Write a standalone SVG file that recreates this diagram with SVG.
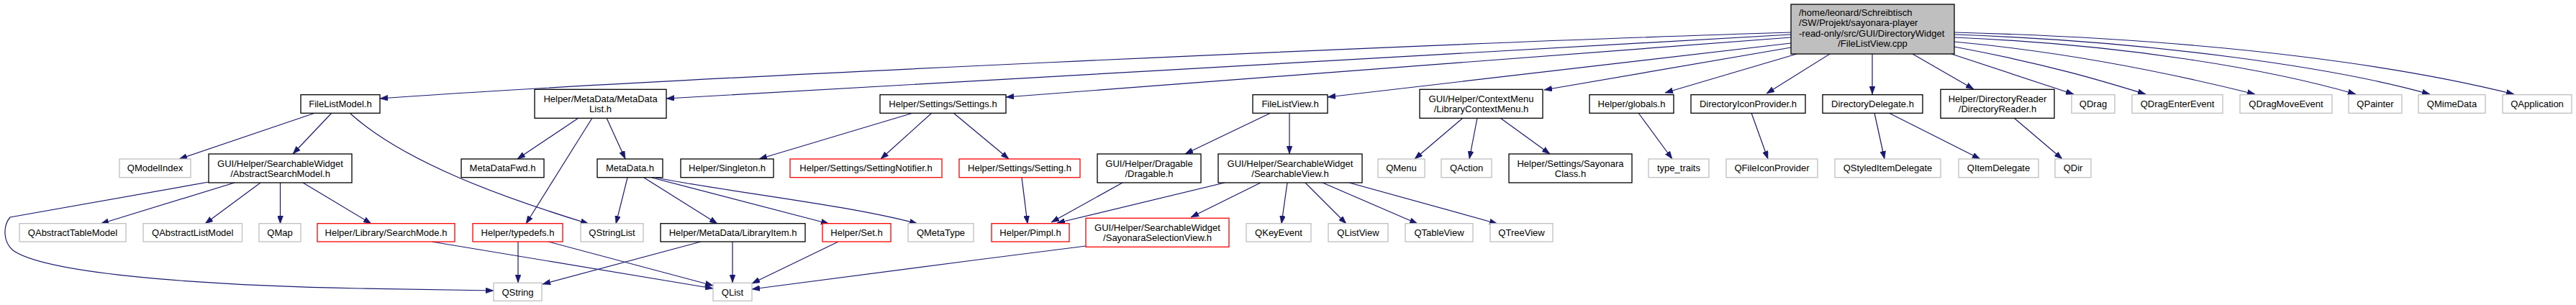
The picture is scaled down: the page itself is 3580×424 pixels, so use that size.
<svg xmlns="http://www.w3.org/2000/svg" width="3580" height="424" viewBox="0 0 3580 424">
<style>
rect{fill:#fff;stroke-width:1.3}
.k rect{stroke:#000}
.g rect{stroke:#bfbfbf}
.r rect{stroke:#f00}
.root rect{fill:#bfbfbf;stroke:#000}
text{font-family:"Liberation Sans",Arial,sans-serif;font-size:13px;fill:#000;text-anchor:middle}
.root text{text-anchor:start}
#edges path{fill:none;stroke:#191970;stroke-width:1.2;marker-end:url(#ah)}
</style>
<defs>
<marker id="ah" markerUnits="userSpaceOnUse" markerWidth="11" markerHeight="8" refX="11" refY="4" orient="auto">
<path d="M0,0 L11,4 L0,8 z" fill="#191970" stroke="#191970" stroke-width="0.5"/>
</marker>
</defs>
<rect width="3580" height="424" fill="#fff" stroke="none"/>
<g id="edges">
<path d="M2489,45 C2000,60 900,110 528,137"/>
<path d="M2489,48 C2100,70 1400,110 926,137"/>
<path d="M2489,52 L1398,135"/>
<path d="M2489,60 L1845,135"/>
<path d="M2489,66 L2146,125"/>
<path d="M2497,75 L2314,129"/>
<path d="M2543,75 L2455,130"/>
<path d="M2602,75 L2602,131"/>
<path d="M2658,75 L2743,124"/>
<path d="M2712,75 L2882,131"/>
<path d="M2716,65 C2850,90 2930,115 2982,131"/>
<path d="M2716,58 C2900,75 3050,110 3134,131"/>
<path d="M2716,52 C2950,62 3150,95 3274,131"/>
<path d="M2716,48 C3000,58 3250,95 3377,131"/>
<path d="M2716,45 C3100,55 3350,95 3494,131"/>
<path d="M438,157 L249,221"/>
<path d="M461,157 L407,214"/>
<path d="M486,157 C560,225 700,275 818,311"/>
<path d="M326,254 L140,311"/>
<path d="M362,254 L285,311"/>
<path d="M389.5,254 L389.5,311"/>
<path d="M421,254 L516,311"/>
<path d="M290,253 L14,302 C4,314 4,336 18,348 C60,378 250,396 500,401 L686,404"/>
<path d="M600,336 L991,401"/>
<path d="M804,164 L719,221"/>
<path d="M823,164 L731,311"/>
<path d="M843,164 L869,221"/>
<path d="M872,247 L856,311"/>
<path d="M895,247 L997,311"/>
<path d="M906,247 L1152,311"/>
<path d="M912,247 C1000,265 1180,285 1275,311"/>
<path d="M720,336 L720,393"/>
<path d="M762,336 L991,397"/>
<path d="M974,336 L754,395"/>
<path d="M1018,336 L1018,393"/>
<path d="M1165,336 L1045,394"/>
<path d="M1509,342 C1350,362 1150,388 1045,402"/>
<path d="M1269,157 L1055,221"/>
<path d="M1295,157 L1224,221"/>
<path d="M1325,157 L1402,221"/>
<path d="M1420,247 L1428,311"/>
<path d="M1766,157 L1647,214"/>
<path d="M1792,157 L1792,214"/>
<path d="M1560,254 L1461,309"/>
<path d="M1702,254 L1469,310"/>
<path d="M1752,254 L1655,302"/>
<path d="M1789,254 L1781,311"/>
<path d="M1814,254 L1871,311"/>
<path d="M1838,254 L1970,311"/>
<path d="M1875,254 L2081,311"/>
<path d="M2033,164 L1966,221"/>
<path d="M2053,164 L2042,221"/>
<path d="M2085,164 L2154,214"/>
<path d="M2277,157 L2324,221"/>
<path d="M2434,157 L2457,221"/>
<path d="M2605,157 L2619,221"/>
<path d="M2625,157 L2752,221"/>
<path d="M2799,164 L2866,221"/>
</g>
<g id="root" class="root"><rect x="2489" y="6" width="227" height="69"/>
<text x="2500" y="21.5">/home/leonard/Schreibtisch</text>
<text x="2500" y="36">/SW/Projekt/sayonara-player</text>
<text x="2500" y="50.5">-read-only/src/GUI/DirectoryWidget</text>
<text x="2602.5" y="65" style="text-anchor:middle">/FileListView.cpp</text></g>
<g id="n_FileListModel" class="k"><rect x="418" y="131.7" width="110" height="25.6"/><text x="473" y="149">FileListModel.h</text></g>
<g id="n_MetaDataList" class="k"><rect x="743" y="124.3" width="183" height="40"/><text x="834.5" y="142">Helper/MetaData/MetaData</text><text x="834.5" y="156">List.h</text></g>
<g id="n_Settings" class="k"><rect x="1223" y="131.7" width="175" height="25.6"/><text x="1310.5" y="149">Helper/Settings/Settings.h</text></g>
<g id="n_FileListView" class="k"><rect x="1741" y="131.7" width="104" height="25.6"/><text x="1793" y="149">FileListView.h</text></g>
<g id="n_LibraryContextMenu" class="k"><rect x="1973" y="124.3" width="171" height="40"/><text x="2058.5" y="142">GUI/Helper/ContextMenu</text><text x="2058.5" y="156">/LibraryContextMenu.h</text></g>
<g id="n_globals" class="k"><rect x="2209" y="131.7" width="117" height="25.6"/><text x="2267.5" y="149">Helper/globals.h</text></g>
<g id="n_DirectoryIconProvider" class="k"><rect x="2350" y="131.7" width="159" height="25.6"/><text x="2429.5" y="149">DirectoryIconProvider.h</text></g>
<g id="n_DirectoryDelegate" class="k"><rect x="2533" y="131.7" width="139" height="25.6"/><text x="2602.5" y="149">DirectoryDelegate.h</text></g>
<g id="n_DirectoryReader" class="k"><rect x="2697" y="124.3" width="158" height="40"/><text x="2776" y="142">Helper/DirectoryReader</text><text x="2776" y="156">/DirectoryReader.h</text></g>
<g id="n_QDrag" class="g"><rect x="2879" y="131.7" width="60" height="25.6"/><text x="2909" y="149">QDrag</text></g>
<g id="n_QDragEnterEvent" class="g"><rect x="2963" y="131.7" width="126" height="25.6"/><text x="3026" y="149">QDragEnterEvent</text></g>
<g id="n_QDragMoveEvent" class="g"><rect x="3113" y="131.7" width="128" height="25.6"/><text x="3177" y="149">QDragMoveEvent</text></g>
<g id="n_QPainter" class="g"><rect x="3264" y="131.7" width="74" height="25.6"/><text x="3301" y="149">QPainter</text></g>
<g id="n_QMimeData" class="g"><rect x="3361" y="131.7" width="93" height="25.6"/><text x="3407.5" y="149">QMimeData</text></g>
<g id="n_QApplication" class="g"><rect x="3478" y="131.7" width="96" height="25.6"/><text x="3526" y="149">QApplication</text></g>
<g id="n_QModelIndex" class="g"><rect x="166" y="221" width="99" height="25.7"/><text x="215.5" y="238.3">QModelIndex</text></g>
<g id="n_AbstractSearchModel" class="k"><rect x="290" y="214" width="199" height="40"/><text x="389.5" y="231.7">GUI/Helper/SearchableWidget</text><text x="389.5" y="245.7">/AbstractSearchModel.h</text></g>
<g id="n_MetaDataFwd" class="k"><rect x="641" y="221" width="115" height="25.7"/><text x="698.5" y="238.3">MetaDataFwd.h</text></g>
<g id="n_MetaData" class="k"><rect x="830" y="221" width="91" height="25.7"/><text x="875.5" y="238.3">MetaData.h</text></g>
<g id="n_Singleton" class="k"><rect x="946" y="221" width="129" height="25.7"/><text x="1010.5" y="238.3">Helper/Singleton.h</text></g>
<g id="n_SettingNotifier" class="r"><rect x="1098" y="221" width="211" height="25.7"/><text x="1203.5" y="238.3">Helper/Settings/SettingNotifier.h</text></g>
<g id="n_Setting" class="r"><rect x="1333" y="221" width="168" height="25.7"/><text x="1417" y="238.3">Helper/Settings/Setting.h</text></g>
<g id="n_Dragable" class="k"><rect x="1525" y="214" width="144" height="40"/><text x="1597" y="231.7">GUI/Helper/Dragable</text><text x="1597" y="245.7">/Dragable.h</text></g>
<g id="n_SearchableView" class="k"><rect x="1693" y="214" width="200" height="40"/><text x="1793" y="231.7">GUI/Helper/SearchableWidget</text><text x="1793" y="245.7">/SearchableView.h</text></g>
<g id="n_QMenu" class="g"><rect x="1915" y="221" width="65" height="25.7"/><text x="1947.5" y="238.3">QMenu</text></g>
<g id="n_QAction" class="g"><rect x="2003" y="221" width="70" height="25.7"/><text x="2038" y="238.3">QAction</text></g>
<g id="n_SayonaraClass" class="k"><rect x="2097" y="214" width="171" height="40"/><text x="2182.5" y="231.7">Helper/Settings/Sayonara</text><text x="2182.5" y="245.7">Class.h</text></g>
<g id="n_type_traits" class="g"><rect x="2291" y="221" width="84" height="25.7"/><text x="2333" y="238.3">type_traits</text></g>
<g id="n_QFileIconProvider" class="g"><rect x="2399" y="221" width="127" height="25.7"/><text x="2462.5" y="238.3">QFileIconProvider</text></g>
<g id="n_QStyledItemDelegate" class="g"><rect x="2550" y="221" width="147" height="25.7"/><text x="2623.5" y="238.3">QStyledItemDelegate</text></g>
<g id="n_QItemDelegate" class="g"><rect x="2722" y="221" width="111" height="25.7"/><text x="2777.5" y="238.3">QItemDelegate</text></g>
<g id="n_QDir" class="g"><rect x="2856" y="221" width="50" height="25.7"/><text x="2881" y="238.3">QDir</text></g>
<g id="n_QAbstractTableModel" class="g"><rect x="27" y="310.7" width="148" height="25.3"/><text x="101" y="328">QAbstractTableModel</text></g>
<g id="n_QAbstractListModel" class="g"><rect x="199" y="310.7" width="137.5" height="25.3"/><text x="267.75" y="328">QAbstractListModel</text></g>
<g id="n_QMap" class="g"><rect x="360" y="310.7" width="58" height="25.3"/><text x="389" y="328">QMap</text></g>
<g id="n_SearchMode" class="r"><rect x="441" y="310.7" width="191" height="25.3"/><text x="536.5" y="328">Helper/Library/SearchMode.h</text></g>
<g id="n_typedefs" class="r"><rect x="657" y="310.7" width="125" height="25.3"/><text x="719.5" y="328">Helper/typedefs.h</text></g>
<g id="n_QStringList" class="g"><rect x="807" y="310.7" width="87" height="25.3"/><text x="850.5" y="328">QStringList</text></g>
<g id="n_LibraryItem" class="k"><rect x="918" y="310.7" width="201" height="25.3"/><text x="1018.5" y="328">Helper/MetaData/LibraryItem.h</text></g>
<g id="n_Set" class="r"><rect x="1143" y="310.7" width="95" height="25.3"/><text x="1190.5" y="328">Helper/Set.h</text></g>
<g id="n_QMetaType" class="g"><rect x="1262" y="310.7" width="91" height="25.3"/><text x="1307.5" y="328">QMetaType</text></g>
<g id="n_Pimpl" class="r"><rect x="1378" y="310.7" width="108" height="25.3"/><text x="1432" y="328">Helper/Pimpl.h</text></g>
<g id="n_SayonaraSelectionView" class="r"><rect x="1509" y="303.3" width="199" height="40"/><text x="1608.5" y="321">GUI/Helper/SearchableWidget</text><text x="1608.5" y="335">/SayonaraSelectionView.h</text></g>
<g id="n_QKeyEvent" class="g"><rect x="1732" y="310.7" width="90" height="25.3"/><text x="1777" y="328">QKeyEvent</text></g>
<g id="n_QListView" class="g"><rect x="1846" y="310.7" width="83" height="25.3"/><text x="1887.5" y="328">QListView</text></g>
<g id="n_QTableView" class="g"><rect x="1953" y="310.7" width="94" height="25.3"/><text x="2000" y="328">QTableView</text></g>
<g id="n_QTreeView" class="g"><rect x="2071" y="310.7" width="87" height="25.3"/><text x="2114.5" y="328">QTreeView</text></g>
<g id="n_QString" class="g"><rect x="686" y="393.3" width="67" height="25"/><text x="719.5" y="410.5">QString</text></g>
<g id="n_QList" class="g"><rect x="991" y="393.3" width="54" height="25"/><text x="1018" y="410.5">QList</text></g>
</svg>
